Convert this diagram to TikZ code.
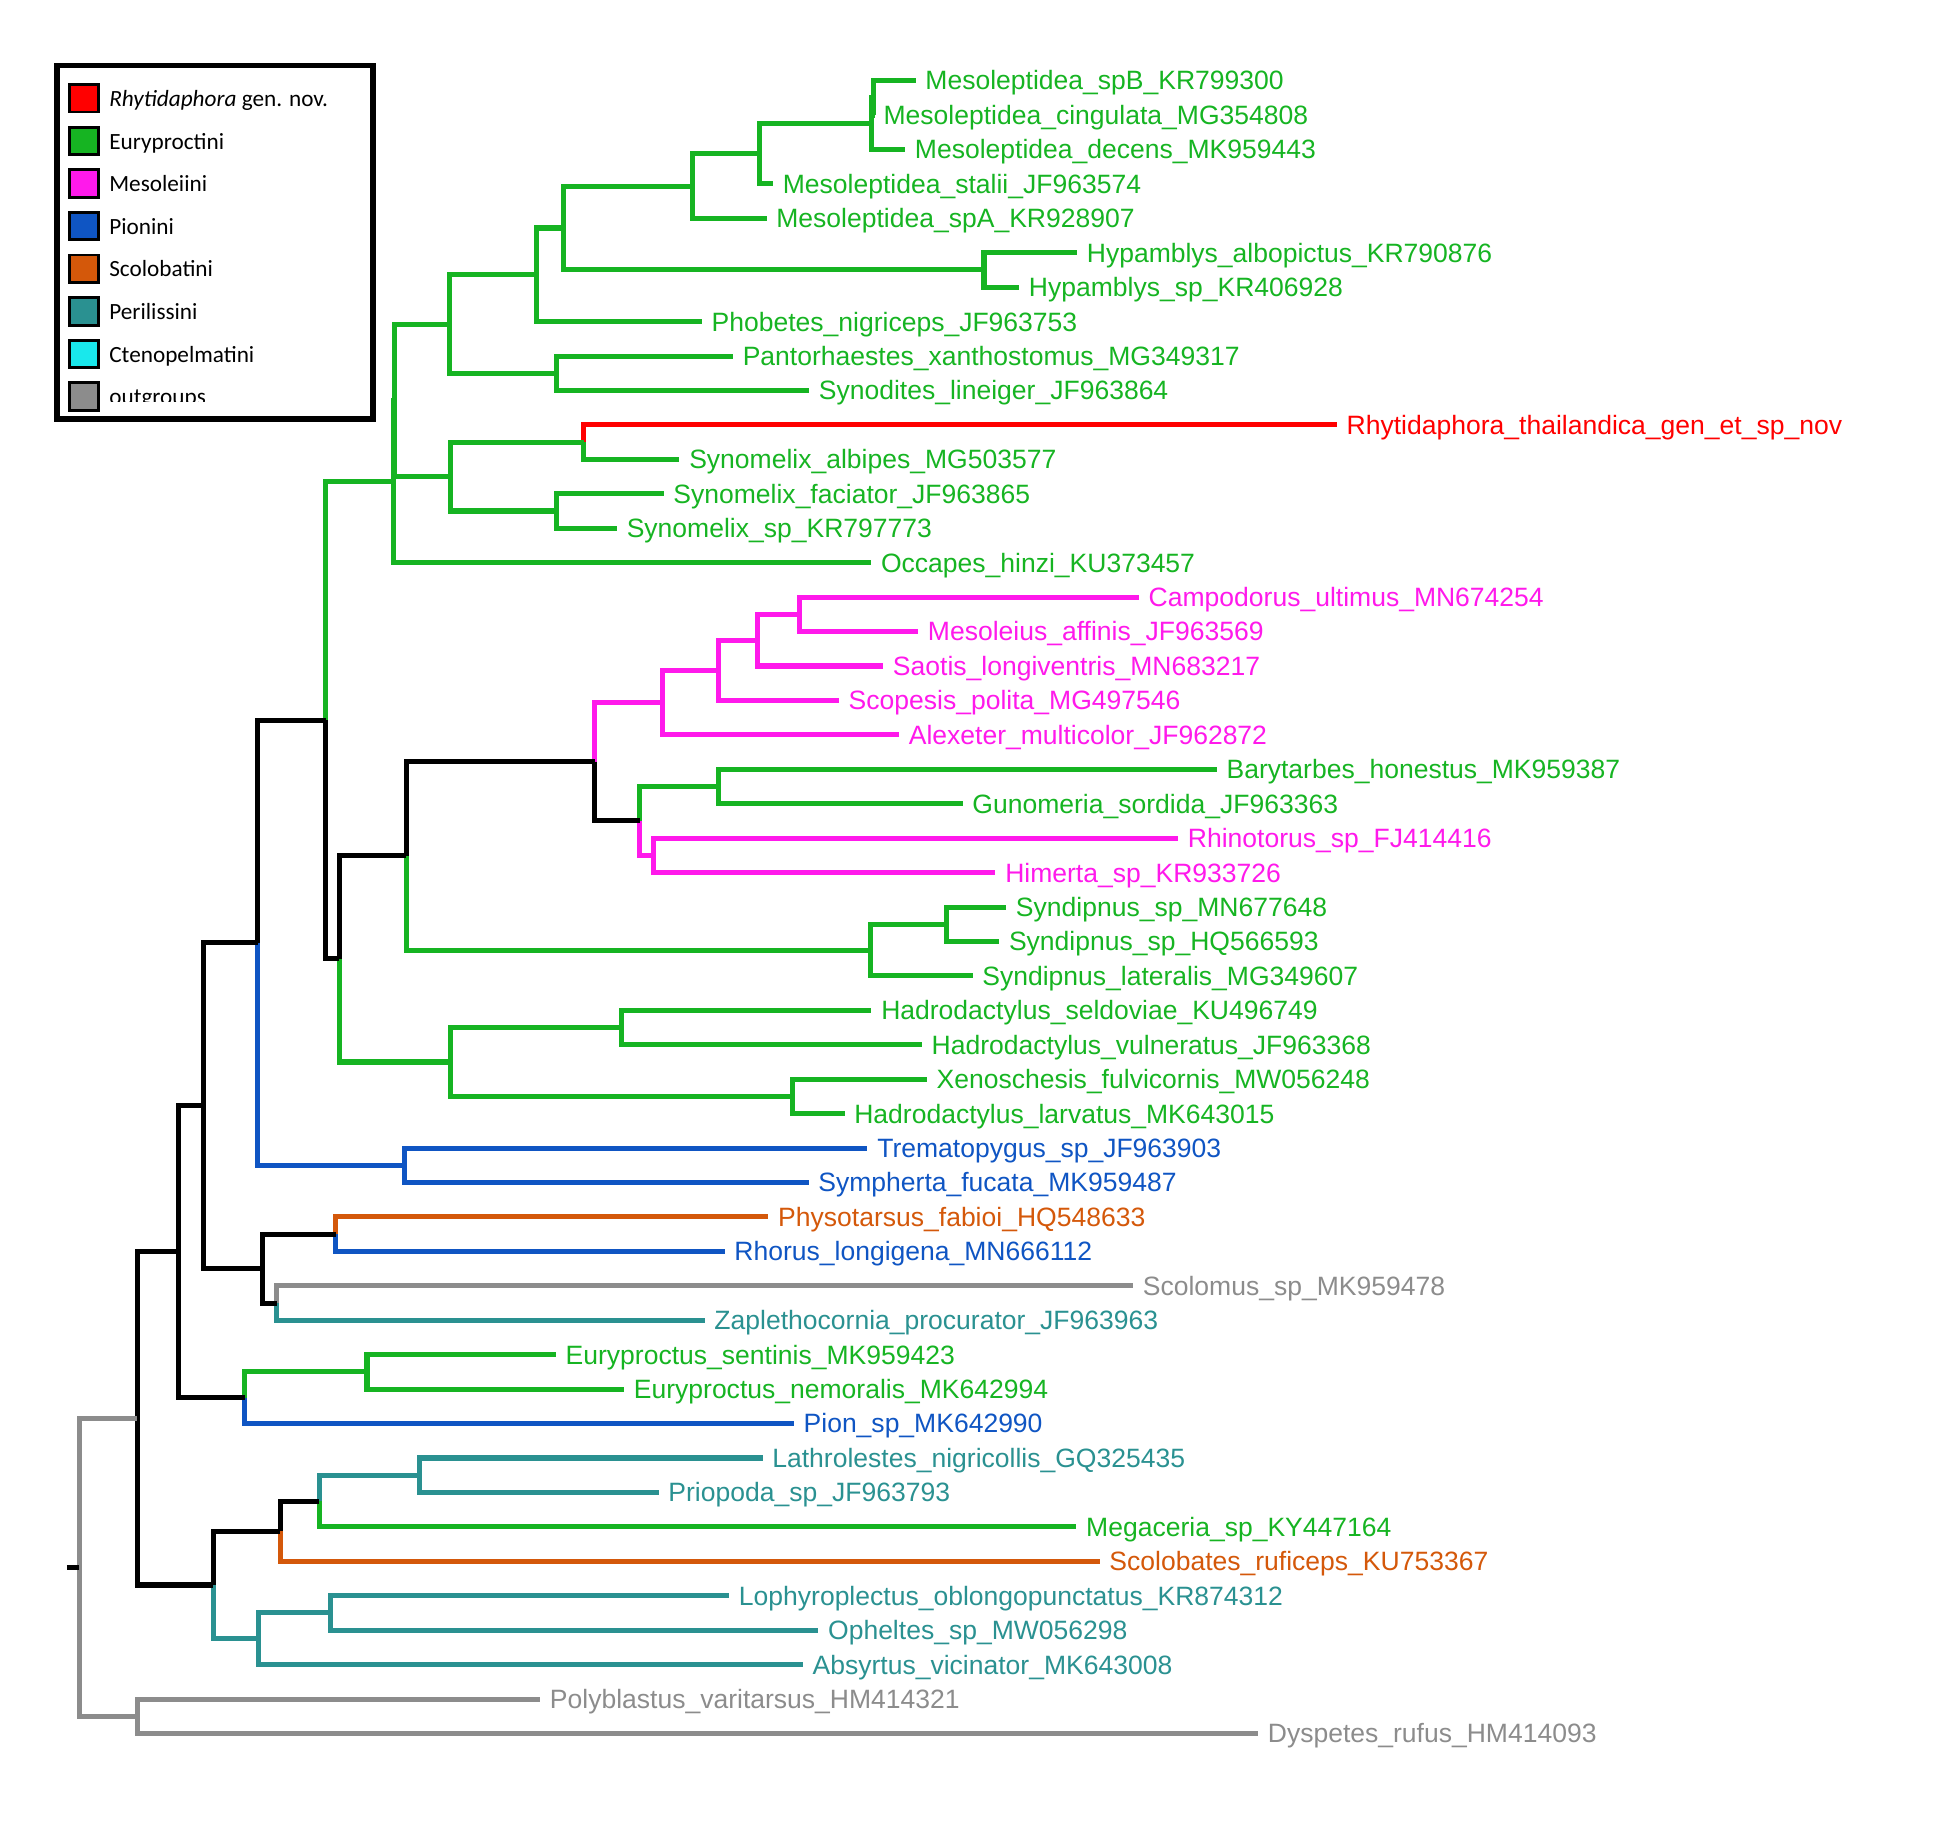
\documentclass[tikz,border=0pt]{standalone}
\usepackage{fontspec}
\usepackage{tikz}
\usetikzlibrary{positioning}
\newfontfamily\tipfamily{Liberation Sans}
\newfontfamily\keyfamily{Carlito}
\definecolor{cRhyt}{RGB}{255,0,0}
\definecolor{cEury}{RGB}{22,180,34}
\definecolor{cMeso}{RGB}{255,25,235}
\definecolor{cPion}{RGB}{15,85,195}
\definecolor{cScol}{RGB}{212,88,10}
\definecolor{cPeri}{RGB}{42,145,145}
\definecolor{cCten}{RGB}{25,232,236}
\definecolor{cOutg}{RGB}{140,140,140}

\begin{document}
\begin{tikzpicture}[x=0.02cm, y=-0.5522cm,
  br/.style={line width=2.3pt},
  tip/.style={anchor=west, inner xsep=1.5mm, inner ysep=0pt, text height=8.6pt, text depth=0pt,
              font=\tipfamily\fontsize{12.1}{14}\selectfont},
  key/.style={draw=black, line width=1.3pt, minimum width=4.7mm, minimum height=4.4mm, inner sep=0pt},
  keytext/.style={inner xsep=1.4mm, inner ysep=0pt, text height=8pt, text depth=0.5pt,
                  font=\keyfamily\fontsize{10.6}{12}\selectfont},
  rhy/.style={color=cRhyt}, eur/.style={color=cEury}, mes/.style={color=cMeso},
  pio/.style={color=cPion}, sco/.style={color=cScol}, per/.style={color=cPeri},
  og/.style={color=cOutg}, blk/.style={color=black}
]
\useasboundingbox (0,-1.340) rectangle (1568,52.118);

% legend
\draw[line width=2.6pt] (45.5,0.561) rectangle (299,10.829);
\foreach \col [count=\k from 0] in {cRhyt,cEury,cMeso,cPion,cScol,cPeri,cCten,cOutg}
  \node[key, fill=\col] (key\k) at (67.4,{1.514+1.2376*\k}) {};
\begin{scope}
  \clip (45.5,0.6) rectangle (299,10.32);
  \foreach \lab [count=\k from 0] in {{\textit{Rhytidaphora} gen. nov.},Euryproctini,Mesoleiini,Pionini,Scolobatini,Perilissini,Ctenopelmatini,outgroups}
    \node[keytext, right=0pt of key\k] (keytxt\k) {\lab};
\end{scope}

% tips
\node[tip, eur] (spB)     at (734,1)    {Mesoleptidea\_spB\_KR799300};
\node[tip, eur] (cing)    at (700.5,2)  {Mesoleptidea\_cingulata\_MG354808};
\node[tip, eur] (decens)  at (725.6,3)  {Mesoleptidea\_decens\_MK959443};
\node[tip, eur] (stalii)  at (619.7,4)  {Mesoleptidea\_stalii\_JF963574};
\node[tip, eur] (spA)     at (614.5,5)  {Mesoleptidea\_spA\_KR928907};
\node[tip, eur] (albop)   at (863.4,6)  {Hypamblys\_albopictus\_KR790876};
\node[tip, eur] (hypsp)   at (817,7)    {Hypamblys\_sp\_KR406928};
\node[tip, eur] (phob)    at (562.6,8)  {Phobetes\_nigriceps\_JF963753};
\node[tip, eur] (pant)    at (587.6,9)  {Pantorhaestes\_xanthostomus\_MG349317};
\node[tip, eur] (synod)   at (648.6,10) {Synodites\_lineiger\_JF963864};
\node[tip, rhy] (rhyt)    at (1071.7,11) {Rhytidaphora\_thailandica\_gen\_et\_sp\_nov};
\node[tip, eur] (albip)   at (544.7,12) {Synomelix\_albipes\_MG503577};
\node[tip, eur] (faciat)  at (532,13)   {Synomelix\_faciator\_JF963865};
\node[tip, eur] (synsp)   at (494.6,14) {Synomelix\_sp\_KR797773};
\node[tip, eur] (occ)     at (698.4,15) {Occapes\_hinzi\_KU373457};
\node[tip, mes] (campo)   at (913,16)   {Campodorus\_ultimus\_MN674254};
\node[tip, mes] (mesol)   at (736,17)   {Mesoleius\_affinis\_JF963569};
\node[tip, mes] (saot)    at (708,18)   {Saotis\_longiventris\_MN683217};
\node[tip, mes] (scop)    at (672.5,19) {Scopesis\_polita\_MG497546};
\node[tip, mes] (alex)    at (720.7,20) {Alexeter\_multicolor\_JF962872};
\node[tip, eur] (baryt)   at (975.4,21) {Barytarbes\_honestus\_MK959387};
\node[tip, eur] (gunom)   at (771.7,22) {Gunomeria\_sordida\_JF963363};
\node[tip, mes] (rhino)   at (944.4,23) {Rhinotorus\_sp\_FJ414416};
\node[tip, mes] (himer)   at (798,24)   {Himerta\_sp\_KR933726};
\node[tip, eur] (syndA)   at (806.6,25) {Syndipnus\_sp\_MN677648};
\node[tip, eur] (syndB)   at (801,26)   {Syndipnus\_sp\_HQ566593};
\node[tip, eur] (syndlat) at (779.6,27) {Syndipnus\_lateralis\_MG349607};
\node[tip, eur] (seld)    at (698.6,28) {Hadrodactylus\_seldoviae\_KU496749};
\node[tip, eur] (vuln)    at (739,29)   {Hadrodactylus\_vulneratus\_JF963368};
\node[tip, eur] (xeno)    at (743,30)   {Xenoschesis\_fulvicornis\_MW056248};
\node[tip, eur] (larv)    at (677,31)   {Hadrodactylus\_larvatus\_MK643015};
\node[tip, pio] (trem)    at (695.4,32) {Trematopygus\_sp\_JF963903};
\node[tip, pio] (symph)   at (648.2,33) {Sympherta\_fucata\_MK959487};
\node[tip, sco] (physo)   at (616,34)   {Physotarsus\_fabioi\_HQ548633};
\node[tip, pio] (rhor)    at (580.9,35) {Rhorus\_longigena\_MN666112};
\node[tip, og]  (scolom)  at (908.3,36) {Scolomus\_sp\_MK959478};
\node[tip, per] (zapl)    at (564.9,37) {Zaplethocornia\_procurator\_JF963963};
\node[tip, eur] (eusent)  at (445.6,38) {Euryproctus\_sentinis\_MK959423};
\node[tip, eur] (eunem)   at (500.3,39) {Euryproctus\_nemoralis\_MK642994};
\node[tip, pio] (pion)    at (636.4,40) {Pion\_sp\_MK642990};
\node[tip, per] (lathr)   at (611.3,41) {Lathrolestes\_nigricollis\_GQ325435};
\node[tip, per] (priop)   at (528,42)   {Priopoda\_sp\_JF963793};
\node[tip, eur] (megac)   at (862.9,43) {Megaceria\_sp\_KY447164};
\node[tip, sco] (scolob)  at (881.5,44) {Scolobates\_ruficeps\_KU753367};
\node[tip, per] (lophy)   at (584.5,45) {Lophyroplectus\_oblongopunctatus\_KR874312};
\node[tip, per] (ophel)   at (656,46)   {Opheltes\_sp\_MW056298};
\node[tip, per] (absyr)   at (643.6,47) {Absyrtus\_vicinator\_MK643008};
\node[tip, og]  (polyb)   at (433,48)   {Polyblastus\_varitarsus\_HM414321};
\node[tip, og]  (dysp)    at (1008.5,49) {Dyspetes\_rufus\_HM414093};

% internal nodes
\coordinate (mlA) at (700.4,1.5);
\coordinate (mlB) at (698.6,2.25);
\coordinate (mlC) at (609,3.125);
\coordinate (mlD) at (555.5,4.0625);
\coordinate (hyp) at (788.8,6.5);
\coordinate (mlhyp) at (451.7,5.2813);
\coordinate (mlphob) at (430,6.6406);
\coordinate (pansyn) at (446.3,9.5);
\coordinate (eurA) at (360.4,8.0703);
\coordinate (rhytalb) at (467.8,11.5);
\coordinate (synfac) at (446.3,13.5);
\coordinate (synom) at (361,12.5);
\coordinate (eurB) at (316.5,10.2852);
\coordinate (eurC) at (315.7,12.6426);
\coordinate (mesA) at (640.6,16.5);
\coordinate (mesB) at (607,17.25);
\coordinate (mesC) at (576,18.125);
\coordinate (mesD) at (531,19.0625);
\coordinate (bargun) at (575.8,21.5);
\coordinate (rhihim) at (524,23.5);
\coordinate (mixA) at (513,22.5);
\coordinate (mixB) at (476.7,20.7813);
\coordinate (syndsp) at (758.8,25.5);
\coordinate (synd) at (698,26.25);
\coordinate (mixC) at (325.6,23.5156);
\coordinate (hadA) at (498.3,28.5);
\coordinate (hadB) at (635,30.5);
\coordinate (had) at (361.4,29.5);
\coordinate (mixD) at (272,26.5078);
\coordinate (mixE) at (261.3,19.5752);
\coordinate (pioA) at (323.9,32.5);
\coordinate (mixF) at (206.5,26.0376);
\coordinate (phrh) at (269.1,34.5);
\coordinate (sczap) at (221.9,36.5);
\coordinate (mixG) at (210.4,35.5);
\coordinate (mixH) at (162.9,30.7688);
\coordinate (eury) at (294.2,38.5);
\coordinate (eupi) at (196.1,39.25);
\coordinate (mixI) at (143.2,35.0094);
\coordinate (lapr) at (336.4,41.5);
\coordinate (lpme) at (255.9,42.25);
\coordinate (mixJ) at (224.8,43.125);
\coordinate (loop) at (264.9,45.5);
\coordinate (peri) at (207.6,46.25);
\coordinate (mixK) at (171,44.6875);
\coordinate (ingroup) at (110.2,39.8485);
\coordinate (outg) at (110.2,48.5);
\coordinate (root) at (63.7,44.1742);
\coordinate (rootstub) at (53.7,44.1742);

% branches
\draw[br, eur] (mlA) |- (spB.west) (mlA) |- (cing.west) (mlB) |- (mlA) (mlB) |- (decens.west)
  (mlC) |- (mlB) (mlC) |- (stalii.west) (mlD) |- (mlC) (mlD) |- (spA.west)
  (hyp) |- (albop.west) (hyp) |- (hypsp.west) (mlhyp) |- (mlD) (mlhyp) |- (hyp)
  (mlphob) |- (mlhyp) (mlphob) |- (phob.west) (pansyn) |- (pant.west) (pansyn) |- (synod.west)
  (eurA) |- (mlphob) (eurA) |- (pansyn);
\draw[br, rhy] (rhytalb) |- (rhyt.west);
\draw[br, eur] (rhytalb) |- (albip.west) (synfac) |- (faciat.west) (synfac) |- (synsp.west)
  (synom) |- (rhytalb) (synom) |- (synfac) (eurB) |- (eurA) (eurB) |- (synom)
  (eurC) |- (eurB) (eurC) |- (occ.west);
\draw[br, mes] (mesA) |- (campo.west) (mesA) |- (mesol.west) (mesB) |- (mesA) (mesB) |- (saot.west)
  (mesC) |- (mesB) (mesC) |- (scop.west) (mesD) |- (mesC) (mesD) |- (alex.west)
  (rhihim) |- (rhino.west) (rhihim) |- (himer.west) (mixA) |- (rhihim) (mixB) |- (mesD);
\draw[br, eur] (bargun) |- (baryt.west) (bargun) |- (gunom.west) (mixA) |- (bargun)
  (syndsp) |- (syndA.west) (syndsp) |- (syndB.west) (synd) |- (syndsp) (synd) |- (syndlat.west)
  (mixC) |- (synd) (hadA) |- (seld.west) (hadA) |- (vuln.west) (hadB) |- (xeno.west)
  (hadB) |- (larv.west) (had) |- (hadA) (had) |- (hadB) (mixD) |- (had) (mixE) |- (eurC);
\draw[br, blk] (mixB) |- (mixA) (mixC) |- (mixB) (mixD) |- (mixC) (mixE) |- (mixD) (mixF) |- (mixE);
\draw[br, pio] (pioA) |- (trem.west) (pioA) |- (symph.west) (mixF) |- (pioA);
\draw[br, sco] (phrh) |- (physo.west);
\draw[br, pio] (phrh) |- (rhor.west);
\draw[br, og] (sczap) |- (scolom.west);
\draw[br, per] (sczap) |- (zapl.west);
\draw[br, blk] (mixG) |- (phrh) (mixG) |- (sczap) (mixH) |- (mixF) (mixH) |- (mixG);
\draw[br, eur] (eury) |- (eusent.west) (eury) |- (eunem.west) (eupi) |- (eury);
\draw[br, pio] (eupi) |- (pion.west);
\draw[br, blk] (mixI) |- (mixH) (mixI) |- (eupi);
\draw[br, per] (lapr) |- (lathr.west) (lapr) |- (priop.west) (lpme) |- (lapr);
\draw[br, eur] (lpme) |- (megac.west);
\draw[br, sco] (mixJ) |- (scolob.west);
\draw[br, blk] (mixJ) |- (lpme) (mixK) |- (mixJ);
\draw[br, per] (loop) |- (lophy.west) (loop) |- (ophel.west) (peri) |- (loop) (peri) |- (absyr.west)
  (mixK) |- (peri);
\draw[br, blk] (ingroup) |- (mixI) (ingroup) |- (mixK);
\draw[br, og] (outg) |- (polyb.west) (outg) |- (dysp.west) (root) |- (ingroup) (root) |- (outg);
\draw[br, blk] (rootstub) -- (root);
\end{tikzpicture}
\end{document}
